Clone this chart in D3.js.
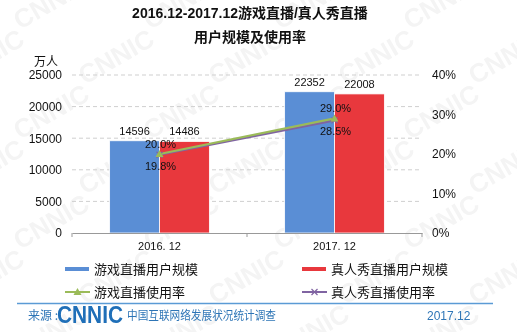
<!DOCTYPE html>
<html><head><meta charset="utf-8">
<script src="https://cdn.jsdelivr.net/npm/d3@7"></script>
<style>
html,body{margin:0;padding:0;background:#fff;}
svg{display:block;font-family:"Liberation Sans","Noto Sans CJK SC",Arial,sans-serif;}
</style></head>
<body>
<svg id="c" width="517" height="332"></svg>
<script>
const categories = ["2016. 12", "2017. 12"];
const gameUsers = [14596, 22352];
const showUsers = [14486, 22008];
const gameRate = [20.0, 29.0];
const showRate = [19.8, 28.5];
const leftTicks = [0, 5000, 10000, 15000, 20000, 25000];
const rightTicks = [0, 10, 20, 30, 40];
const seriesNames = ["游戏直播用户规模", "真人秀直播用户规模", "游戏直播使用率", "真人秀直播使用率"];

const svg = d3.select("#c");
const blue = "#5A8ED5", red = "#E8383D", green = "#9BBB59", purple = "#8064A2";

// watermark
const wm = svg.append("g").attr("fill", "#000").attr("opacity", 0.045)
  .attr("font-size", 26).attr("font-weight", "bold").attr("font-family", "Liberation Sans, Arial");
for (let r = -1; r < 7; r++) {
  for (let c = -1; c < 6; c++) {
    const x = c * 130 + (r % 2) * 65 + 20, y = r * 55 + 30;
    wm.append("text").attr("transform", `translate(${x},${y}) rotate(-30)`).text("CNNIC");
  }
}

const x0 = d3.scaleBand().domain(categories).range([72, 422]).paddingInner(0.43).paddingOuter(0.215);
const x1 = d3.scaleBand().domain([0, 1]).range([0, x0.bandwidth()]);
const yL = d3.scaleLinear().domain([0, 25000]).range([233, 75]);
const yR = d3.scaleLinear().domain([0, 40]).range([233, 75]);

// title
svg.append("text").attr("x", 250).attr("y", 18).attr("text-anchor", "middle")
  .attr("font-size", 14).attr("font-weight", "bold").attr("fill", "#111")
  .text("2016.12-2017.12游戏直播/真人秀直播");
svg.append("text").attr("x", 250).attr("y", 42).attr("text-anchor", "middle")
  .attr("font-size", 14).attr("font-weight", "bold").attr("fill", "#111")
  .text("用户规模及使用率");
svg.append("text").attr("x", 46).attr("y", 66).attr("text-anchor", "middle")
  .attr("font-size", 12).attr("fill", "#111").text("万人");

// gridlines
svg.append("g").selectAll("line").data(leftTicks.slice(1)).join("line")
  .attr("x1", 72).attr("x2", 422).attr("y1", d => yL(d)).attr("y2", d => yL(d))
  .attr("stroke", "#cfcfcf").attr("stroke-dasharray", "4,3").attr("stroke-width", 1);

// left axis
const axL = svg.append("g").attr("transform", "translate(72,0)")
  .call(d3.axisLeft(yL).tickValues(leftTicks).tickSize(0).tickPadding(10).tickFormat(d3.format("d")));
axL.select(".domain").remove();
axL.selectAll("text").attr("font-size", 12).attr("fill", "#111").attr("font-family", "Liberation Sans, Arial");

// right axis
const axR = svg.append("g").attr("transform", "translate(422,0)")
  .call(d3.axisRight(yR).tickValues(rightTicks).tickSize(0).tickPadding(10).tickFormat(d => d + "%"));
axR.select(".domain").remove();
axR.selectAll("text").attr("font-size", 12).attr("fill", "#111").attr("font-family", "Liberation Sans, Arial");

// bars
const data = categories.map((c, i) => ({ c, vals: [gameUsers[i], showUsers[i]] }));
const g = svg.append("g");
data.forEach(d => {
  d.vals.forEach((v, j) => {
    g.append("rect").attr("x", x0(d.c) + x1(j)).attr("y", yL(v))
      .attr("width", x1.bandwidth()).attr("height", yL(0) - yL(v))
      .attr("fill", j === 0 ? blue : red).attr("stroke", "#fff").attr("stroke-width", 0.8);
    g.append("text").attr("x", x0(d.c) + x1(j) + x1.bandwidth() / 2)
      .attr("y", yL(v) - 6).attr("text-anchor", "middle").attr("font-size", 11).attr("fill", "#111")
      .text(v);
  });
});

// x axis
const axX = svg.append("g").attr("transform", "translate(0,233)")
  .call(d3.axisBottom(x0).tickSize(0).tickPadding(9));
axX.select(".domain").attr("stroke", "#999");
axX.selectAll("text").attr("font-size", 11).attr("fill", "#111").attr("font-family", "Liberation Sans, Arial");
svg.append("g").selectAll("line").data([72, 72 + x0.step(), 422]).join("line")
  .attr("x1", d => d).attr("x2", d => d).attr("y1", 233).attr("y2", 237).attr("stroke", "#999");

// lines
const cx = d => x0(d) + x0.bandwidth() / 2;
const line = d3.line().x((d, i) => cx(categories[i])).y(d => yR(d));
svg.append("path").datum(showRate).attr("d", line).attr("fill", "none").attr("stroke", purple).attr("stroke-width", 2.2);
svg.append("path").datum(gameRate).attr("d", line).attr("fill", "none").attr("stroke", green).attr("stroke-width", 2.2);
showRate.forEach((v, i) => {
  const px = cx(categories[i]), py = yR(v);
  svg.append("path").attr("d", `M${px-3},${py-3}L${px+3},${py+3}M${px-3},${py+3}L${px+3},${py-3}`).attr("stroke", purple).attr("stroke-width", 1.2);
  svg.append("text").attr("x", px + 1).attr("y", py + 15).attr("text-anchor", "middle")
    .attr("font-size", 11).attr("fill", "#111").text(v.toFixed(1) + "%");
});
gameRate.forEach((v, i) => {
  const px = cx(categories[i]), py = yR(v);
  svg.append("path").attr("d", `M${px},${py-4}L${px+4},${py+3}L${px-4},${py+3}Z`).attr("fill", green);
  svg.append("text").attr("x", px + 1).attr("y", py - 6).attr("text-anchor", "middle")
    .attr("font-size", 11).attr("fill", "#111").text(v.toFixed(1) + "%");
});

// legend
const leg = [
  { x: 65, y: 269, name: seriesNames[0], type: "bar", color: blue },
  { x: 302, y: 269, name: seriesNames[1], type: "bar", color: red },
  { x: 65, y: 292, name: seriesNames[2], type: "tri", color: green },
  { x: 302, y: 292, name: seriesNames[3], type: "x", color: purple }
];
leg.forEach(l => {
  if (l.type === "bar") {
    svg.append("rect").attr("x", l.x).attr("y", l.y - 2).attr("width", 24).attr("height", 4).attr("fill", l.color);
  } else {
    svg.append("line").attr("x1", l.x).attr("x2", l.x + 25).attr("y1", l.y).attr("y2", l.y).attr("stroke", l.color).attr("stroke-width", 2);
    const px = l.x + 12.5, py = l.y;
    if (l.type === "tri") svg.append("path").attr("d", `M${px},${py-4}L${px+4},${py+3}L${px-4},${py+3}Z`).attr("fill", l.color);
    else svg.append("path").attr("d", `M${px-3},${py-3}L${px+3},${py+3}M${px-3},${py+3}L${px+3},${py-3}`).attr("stroke", l.color).attr("stroke-width", 1.2);
  }
  svg.append("text").attr("x", l.x + 29).attr("y", l.y + 5).attr("font-size", 13).attr("fill", "#111")
    .attr("font-family", "Noto Sans CJK SC").text(l.name);
});

// footer
svg.append("line").attr("x1", 17).attr("x2", 493).attr("y1", 303.5).attr("y2", 303.5).attr("stroke", "#5B9BD5").attr("stroke-width", 1.5);
svg.append("text").attr("x", 28).attr("y", 320).attr("font-size", 12).attr("fill", "#2E75B6")
  .attr("font-family", "Noto Sans CJK SC").text("来源 :");
svg.append("text").attr("x", 57).attr("y", 323).attr("font-size", 23).attr("font-weight", "bold")
  .attr("fill", "#1F6FB8").attr("font-family", "Liberation Sans, Arial").attr("textLength", 66).attr("lengthAdjust", "spacingAndGlyphs").text("CNNIC");
svg.append("text").attr("x", 127).attr("y", 320).attr("font-size", 12).attr("fill", "#2E75B6")
  .attr("font-family", "Noto Sans CJK SC").attr("textLength", 149).attr("lengthAdjust", "spacingAndGlyphs").text("中国互联网络发展状况统计调查");
svg.append("text").attr("x", 427).attr("y", 320).attr("font-size", 12).attr("fill", "#2E75B6").text("2017.12");
</script>
</body></html>
